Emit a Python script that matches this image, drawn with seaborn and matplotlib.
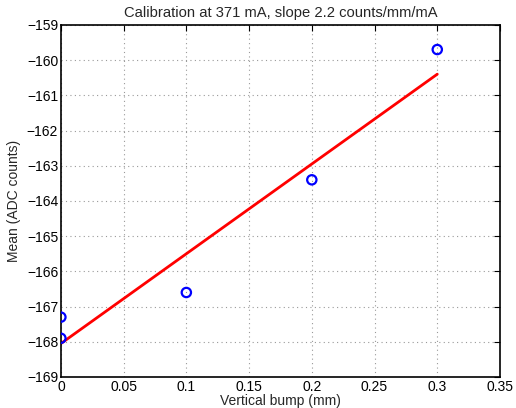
import numpy as np
import pandas as pd
import seaborn as sns
import matplotlib
matplotlib.use("Agg")
import matplotlib.pyplot as plt

# measured points
bump_mm = [0.0, 0.0, 0.1, 0.2, 0.3]
mean_adc = [-167.3, -167.9, -166.6, -163.4, -159.7]

# linear fit line
fit_x = [0.0, 0.3]
fit_y = [-168.05, -160.4]

x_ticks = [0, 0.05, 0.1, 0.15, 0.2, 0.25, 0.3, 0.35]
y_ticks = list(range(-169, -158))

sns.set_style("white")
plt.rcParams["font.family"] = ["Liberation Sans", "DejaVu Sans"]

fig = plt.figure(figsize=(5.16, 4.08), dpi=100)
ax = fig.add_axes([0.118, 0.076, 0.851, 0.863])

pts = pd.DataFrame({"x": bump_mm, "y": mean_adc})
fit = pd.DataFrame({"x": fit_x, "y": fit_y})

sns.lineplot(data=fit, x="x", y="y", color="red", linewidth=2, ax=ax)
sns.scatterplot(data=pts, x="x", y="y", marker="o", s=45,
                facecolor="none", edgecolor="blue", linewidth=1.6, ax=ax, zorder=5)

ax.set_xlim(0, 0.35)
ax.set_ylim(-169, -159)
ax.set_xticks(x_ticks)
ax.set_xticklabels(["0", "0.05", "0.1", "0.15", "0.2", "0.25", "0.3", "0.35"])
ax.set_yticks(y_ticks)

ax.grid(True, linestyle=(0, (1, 3)), color="#999999", linewidth=0.8)
ax.tick_params(direction="in", length=4, width=0.8, top=True, right=True,
               labelsize=10, colors="black", pad=2)
for s in ax.spines.values():
    s.set_color("black")
    s.set_linewidth(1.2)

ax.set_xlabel("Vertical bump (mm)", fontsize=10, labelpad=0)
ax.set_ylabel("Mean (ADC counts)", fontsize=10, labelpad=4)
ax.set_title("Calibration at 371 mA, slope 2.2 counts/mm/mA", fontsize=10.6, pad=6)

fig.savefig("out.png", dpi=100)
